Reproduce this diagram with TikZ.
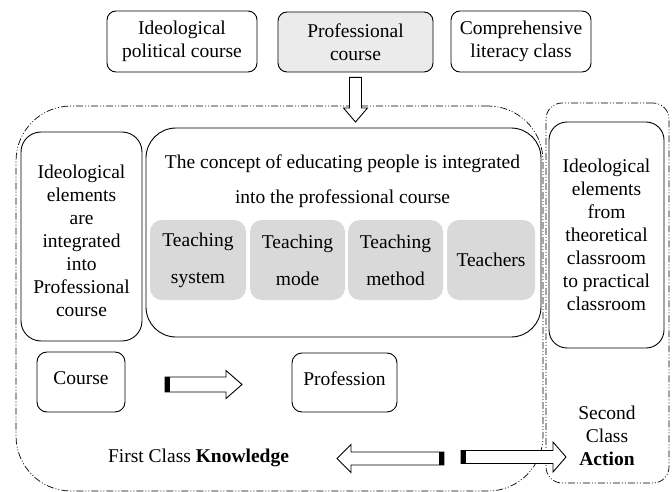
\documentclass[tikz,border=0pt]{standalone}
\usepackage{fontspec}
\setmainfont{Liberation Serif}
\usetikzlibrary{calc}

\begin{document}
\begin{tikzpicture}[x=1pt,y=-1pt]
\tikzstyle{every node}+=[inner sep=0pt, align=center, font=\fontsize{19.5}{23}\selectfont]
\tikzstyle{box}=[draw=black, line width=0.9pt, rounded corners=9pt]
\tikzstyle{grey}=[fill=black!15, rounded corners=12pt, font=\fontsize{19.5}{37}\selectfont]
\tikzstyle{region}=[draw=black, line width=0.7pt, dash pattern=on 7pt off 2pt on 1pt off 2pt on 1pt off 2pt]
\tikzstyle{hollow}=[draw=black, line width=0.9pt, fill=white, line join=miter]
\useasboundingbox (0,0) rectangle (672,492);
\node [region, rounded corners=55pt, minimum width=527pt, minimum height=385pt] (first) at (279.5,298.5) {};
\node [region, rounded corners=16pt, minimum width=123pt, minimum height=380pt] (second) at (607.5,293) {};
\node [box, minimum width=150pt, minimum height=61pt] (ideo) at (182,41.5) {Ideological\\political course};
\node [box, fill=black!8, minimum width=155pt, minimum height=60pt] (prof) at (355.5,42) {Professional\\course};
\node [box, minimum width=140pt, minimum height=61pt] (comp) at (521,41.5) {Comprehensive\\literacy class};
\node [box, rounded corners=20pt, minimum width=121pt, minimum height=209pt] (elem) at (81.5,236.5) {};
\node (elemtxt) at (81.5,241) {Ideological\\elements\\are\\integrated\\into\\Professional\\course};
\node [box, rounded corners=30pt, minimum width=395pt, minimum height=209pt] (concept) at (343.5,232.5) {};
\node [font=\fontsize{19.5}{35}\selectfont] (concepttxt) at (342.5,181) {The concept of educating people is integrated\\into the professional course};
\node [grey, minimum width=96pt, minimum height=80pt] (tsys) at (198,260) {Teaching\\system};
\node [grey, minimum width=95pt, minimum height=80pt] (tmode) at (297.5,260) {Teaching\\mode};
\node [grey, minimum width=95pt, minimum height=80pt] (tmeth) at (395.5,260) {Teaching\\method};
\node [grey, minimum width=88pt, minimum height=80pt] (tchr) at (491,260) {Teachers};
\node [box, rounded corners=18pt, minimum width=115pt, minimum height=226pt] (theory) at (606.5,235) {Ideological\\elements\\from\\theoretical\\classroom\\to practical\\classroom};
\node [box, rounded corners=10pt, minimum width=88pt, minimum height=60pt] (course) at (81,382) {};
\node (coursetxt) at (81,378) {Course};
\node [box, rounded corners=10pt, minimum width=105pt, minimum height=59pt] (profn) at (344.5,382.5) {};
\node (profntxt) at (344.5,379) {Profession};
\node (firstlbl) at (198.5,458) {First Class \textbf{Knowledge}};
\node (secondlbl) at (607,435.5) {Second\\Class\\\textbf{Action}};
\coordinate (dtip) at (355.5,122);
\draw [hollow] ($(prof.south)+(-6,5)$) -- ($(dtip)+(-6,-14)$) -- ($(dtip)+(-12,-14)$) -- (dtip) -- ($(dtip)+(12,-14)$) -- ($(dtip)+(6,-14)$) -- ($(prof.south)+(6,5)$) -- cycle;
\coordinate (kt) at (165,384.5);
\coordinate (kh) at (242,384.5);
\draw [hollow] ($(kt)+(0,-7.5)$) -- ($(kh)+(-16,-7.5)$) -- ($(kh)+(-16,-14)$) -- (kh) -- ($(kh)+(-16,14)$) -- ($(kh)+(-16,7.5)$) -- ($(kt)+(0,7.5)$) -- cycle;
\fill [black] ($(kt)+(0,-7.5)$) rectangle ($(kt)+(5,7.5)$);
\coordinate (lt) at (444,458.5);
\coordinate (lh) at (337,458.5);
\draw [hollow] ($(lt)+(0,-6.5)$) -- ($(lh)+(14,-6.5)$) -- ($(lh)+(14,-14)$) -- (lh) -- ($(lh)+(14,14)$) -- ($(lh)+(14,6.5)$) -- ($(lt)+(0,6.5)$) -- cycle;
\fill [black] ($(lt)+(-5,-6.5)$) rectangle ($(lt)+(0,6.5)$);
\coordinate (rt) at (461,457);
\coordinate (rh) at (566,457);
\draw [hollow] ($(rt)+(0,-6.5)$) -- ($(rh)+(-13,-6.5)$) -- ($(rh)+(-13,-15)$) -- (rh) -- ($(rh)+(-13,15)$) -- ($(rh)+(-13,6.5)$) -- ($(rt)+(0,6.5)$) -- cycle;
\fill [black] ($(rt)+(0,-6.5)$) rectangle ($(rt)+(5,6.5)$);
\end{tikzpicture}
\end{document}
